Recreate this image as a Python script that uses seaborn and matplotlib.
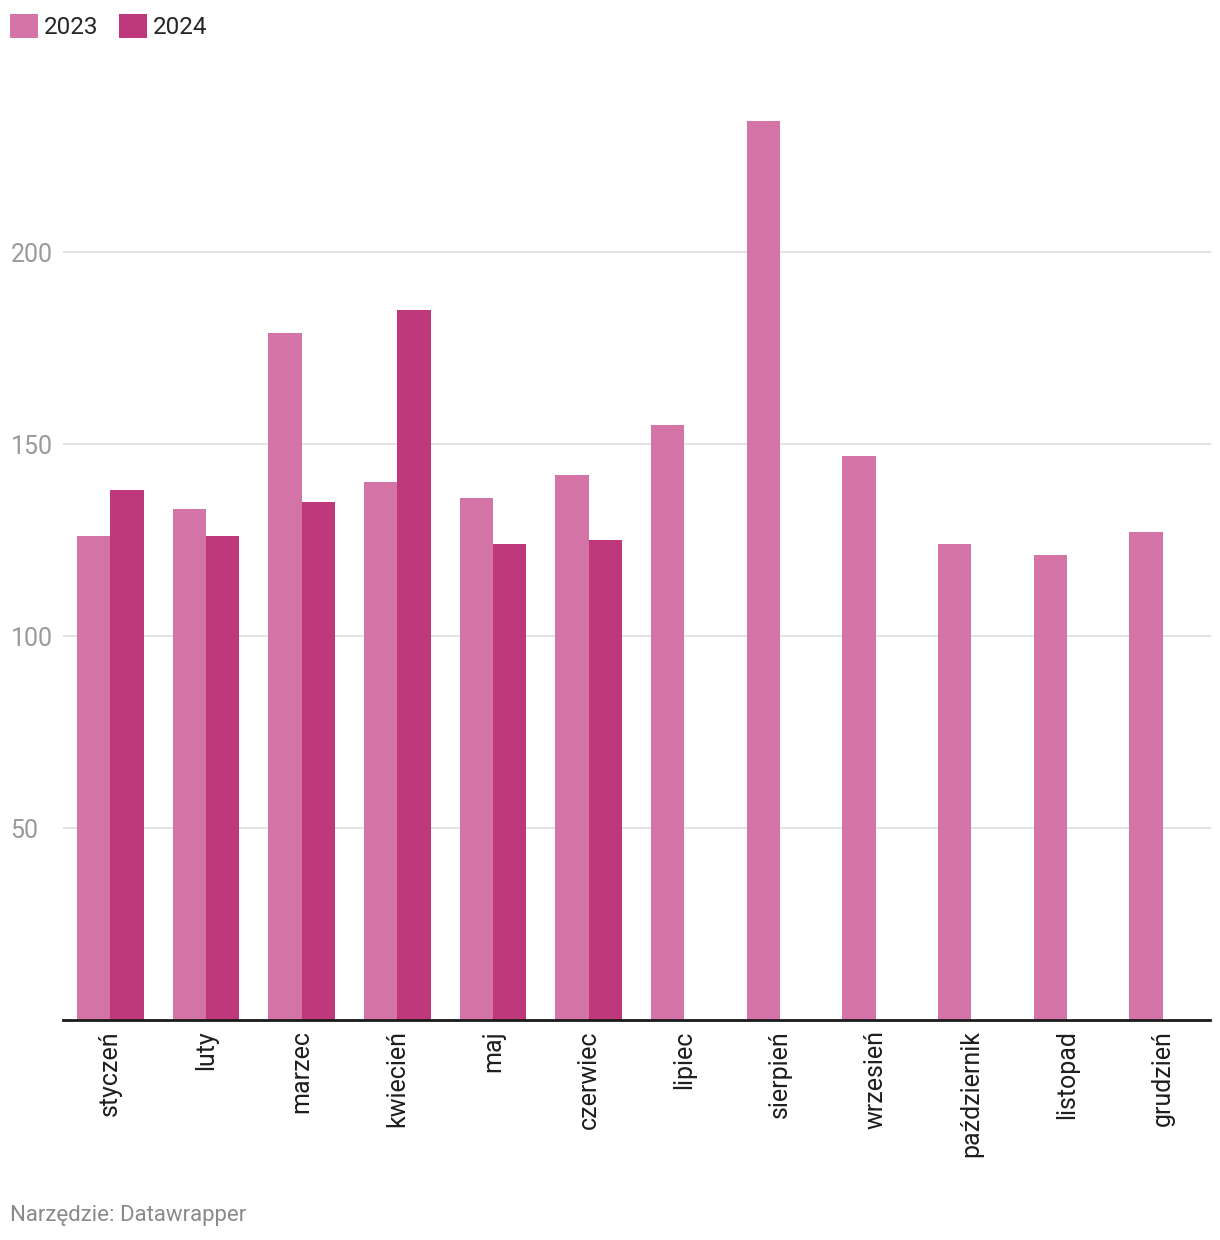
import numpy as np
import pandas as pd
import matplotlib
matplotlib.use("Agg")
import matplotlib.pyplot as plt
import seaborn as sns

months = ["styczeń", "luty", "marzec", "kwiecień", "maj", "czerwiec",
          "lipiec", "sierpień", "wrzesień", "październik", "listopad", "grudzień"]
vals_2023 = [126, 133, 179, 140, 136, 142, 155, 234, 147, 124, 121, 127]
vals_2024 = [138, 126, 135, 185, 124, 125, np.nan, np.nan, np.nan, np.nan, np.nan, np.nan]
years = ["2023", "2024"]
colors = {"2023": "#d474a6", "2024": "#c0387c"}

df = pd.DataFrame({
    "miesiac": months * 2,
    "rok": ["2023"] * 12 + ["2024"] * 12,
    "wartosc": vals_2023 + vals_2024,
})

sns.set_theme(style="white")
plt.rcParams["font.family"] = ["Roboto", "DejaVu Sans"]

fig = plt.figure(figsize=(12.2, 12.4), dpi=100)
ax = fig.add_axes([62.5 / 1220, (1240 - 1020) / 1240, 1148 / 1220, 960 / 1240])

sns.barplot(data=df, x="miesiac", y="wartosc", hue="rok", hue_order=years,
            order=months, palette=colors, saturation=1, width=0.7,
            linewidth=0, edgecolor="none", ax=ax)

ax.set_xlim(-0.5, 11.5)
ax.set_ylim(0, 250)
ax.set_yticks([50, 100, 150, 200])
ax.set_xlabel("")
ax.set_ylabel("")
ax.yaxis.grid(True, color="#e2e2e2", linewidth=1.4)
ax.set_axisbelow(True)
for s in ["top", "right", "left"]:
    ax.spines[s].set_visible(False)
ax.spines["bottom"].set_color("#1a1a1a")
ax.spines["bottom"].set_linewidth(2)

ax.tick_params(axis="y", length=0, pad=37.4, labelsize=18, labelcolor="#9a9a9a")
for lbl in ax.get_yticklabels():
    lbl.set_ha("left")
ax.tick_params(axis="x", length=0, pad=7.5, labelsize=18, labelcolor="#1e1e1e")
plt.setp(ax.get_xticklabels(), rotation=90, ha="center", va="top")

handles, labels = ax.get_legend_handles_labels()
ax.get_legend().remove()
fig.legend(handles, labels, loc="upper left", bbox_to_anchor=(10 / 1220, 1 - 14 / 1240),
           ncol=2, frameon=False, fontsize=17.5, handlelength=1.15, handleheight=1.15,
           handletextpad=0.25, columnspacing=0.85, borderaxespad=0, borderpad=0)

fig.text(10 / 1220, 1 - 1215 / 1240, "Narzędzie: Datawrapper", fontsize=16,
         color="#8a8a8a", ha="left", va="center")

fig.savefig("out.png", dpi=100)
